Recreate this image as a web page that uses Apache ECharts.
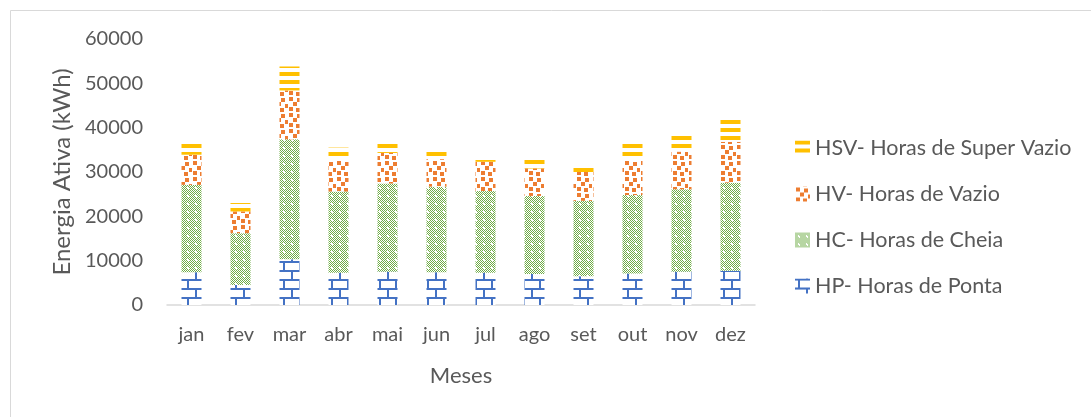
<!DOCTYPE html>
<html>
<head>
<meta charset="utf-8">
<script src="https://cdn.jsdelivr.net/npm/echarts@6/dist/echarts.min.js"></script>
<style>
  html, body { margin: 0; padding: 0; background: #fff; }
  #chart { width: 1091px; height: 417px; }
</style>
</head>
<body>
<div id="chart"></div>
<script>
var months = ['jan', 'fev', 'mar', 'abr', 'mai', 'jun', 'jul', 'ago', 'set', 'out', 'nov', 'dez'];
var yTicks = [0, 10000, 20000, 30000, 40000, 50000, 60000];

// HP- Horas de Ponta
var hp  = [7400, 4500, 10300, 7300, 7500, 7400, 7300, 7000, 6500, 7100, 7500, 7700];
// HC- Horas de Cheia
var hc  = [19700, 11700, 27100, 18300, 19900, 19300, 18400, 17600, 17000, 17700, 18600, 19900];
// HV- Horas de Vazio
var hv  = [6800, 4900, 11000, 7100, 6900, 6200, 6600, 6200, 6500, 7900, 8500, 9200];
// HSV- Horas de Super Vazio
var hsv = [2900, 1900, 5400, 2800, 2300, 2300, 1300, 2300, 1500, 4000, 4300, 5400];

var seriesNames = ['HP- Horas de Ponta', 'HC- Horas de Cheia', 'HV- Horas de Vazio', 'HSV- Horas de Super Vazio'];

function makePattern(w, h, draw) {
	var c = document.createElement('canvas');
	c.width = w;
	c.height = h;
	var ctx = c.getContext('2d');
	ctx.fillStyle = '#fff';
	ctx.fillRect(0, 0, w, h);
	draw(ctx);
	return { image: c, repeat: 'repeat' };
}

// bricks
var brick = makePattern(16, 18, function (ctx) {
	ctx.fillStyle = '#4472C4';
	ctx.fillRect(0, 0, 16, 2);
	ctx.fillRect(0, 9, 16, 2);
	ctx.fillRect(3, 2, 2, 7);
	ctx.fillRect(11, 11, 2, 7);
});
// small checker with white lattice
var checker = makePattern(8, 8, function (ctx) {
	ctx.fillStyle = '#70AD47';
	for (var y = 0; y < 8; y++) {
		for (var x = 0; x < 8; x++) {
			if ((x + y) % 2 === 0) ctx.fillRect(x, y, 1, 1);
		}
	}
	ctx.fillStyle = '#fff';
	ctx.fillRect(3, 3, 2, 2);
});
// scattered squares
var squares = makePattern(16, 16, function (ctx) {
	ctx.fillStyle = '#ED7D31';
	var pts = [[1, 1], [9, 2], [5, 6], [13, 8], [1, 11], [8, 12]];
	pts.forEach(function (p) { ctx.fillRect(p[0], p[1], 4, 4); });
});
// horizontal stripes
var stripes = makePattern(8, 8, function (ctx) {
	ctx.fillStyle = '#FFC000';
	ctx.fillRect(0, 0, 8, 4);
});

var chart = echarts.init(document.getElementById('chart'));

var option = {
	backgroundColor: '#fff',
	animation: false,
	graphic: [{
		type: 'rect',
		shape: { x: 10.5, y: 10.5, width: 1200, height: 500 },
		style: { fill: null, stroke: '#d9d9d9', lineWidth: 1 },
		silent: true
	}],
	grid: { left: 167, right: 336, top: 39, bottom: 112 },
	legend: {
		orient: 'vertical',
		left: 790,
		top: 132,
		itemWidth: 15,
		itemHeight: 15,
		itemGap: 24,
		icon: 'rect',
		data: seriesNames.slice().reverse(),
		textStyle: { fontFamily: 'Lato', fontSize: 21.5, color: '#595959' }
	},
	xAxis: {
		type: 'category',
		data: months,
		name: 'Meses',
		nameLocation: 'middle',
		nameGap: 60,
		nameTextStyle: { fontFamily: 'Lato', fontSize: 22, color: '#595959' },
		axisLine: { lineStyle: { color: '#d9d9d9', width: 1.5 } },
		axisTick: { show: false },
		axisLabel: { fontFamily: 'Lato', fontSize: 20, color: '#595959', margin: 20 }
	},
	yAxis: {
		type: 'value',
		min: yTicks[0],
		max: yTicks[yTicks.length - 1],
		interval: yTicks[1] - yTicks[0],
		name: 'Energia Ativa (kWh)',
		nameLocation: 'middle',
		nameGap: 92,
		nameTextStyle: { fontFamily: 'Lato', fontSize: 24, color: '#595959' },
		axisLine: { show: false },
		axisTick: { show: false },
		splitLine: { show: false },
		axisLabel: {
			fontFamily: 'Lato', fontSize: 20, color: '#595959', margin: 24,
			formatter: function (v) { return String(v); }
		}
	},
	series: [
		{ name: seriesNames[0], type: 'bar', stack: 'e', barWidth: 20, data: hp, itemStyle: { color: brick } },
		{ name: seriesNames[1], type: 'bar', stack: 'e', barWidth: 20, data: hc, itemStyle: { color: checker } },
		{ name: seriesNames[2], type: 'bar', stack: 'e', barWidth: 20, data: hv, itemStyle: { color: squares } },
		{ name: seriesNames[3], type: 'bar', stack: 'e', barWidth: 20, data: hsv, itemStyle: { color: stripes } }
	]
};

chart.setOption(option);
</script>
</body>
</html>
